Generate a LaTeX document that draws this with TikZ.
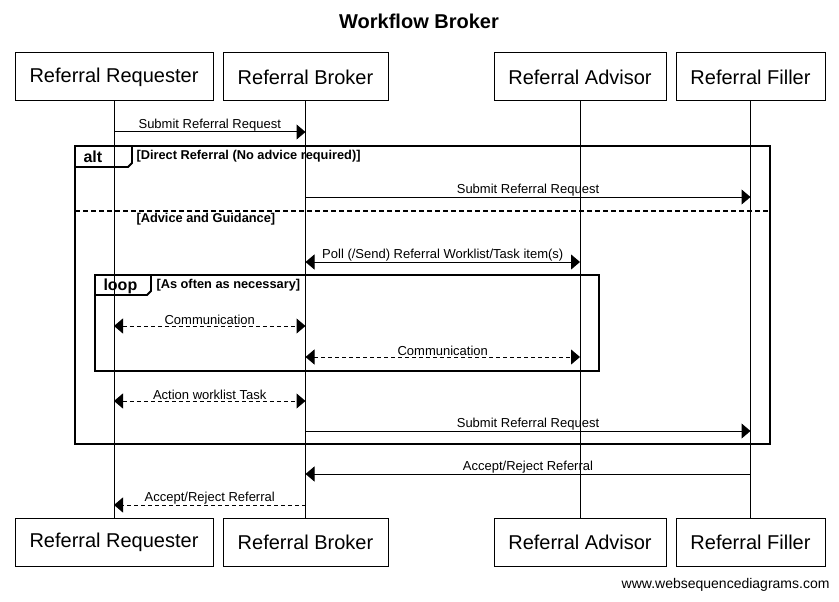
\documentclass[tikz,border=0pt]{standalone}
\usepackage{fontspec}
\setmainfont{Liberation Sans}
\usetikzlibrary{arrows.meta}

\begin{document}
\begin{tikzpicture}[x=1pt,y=-1pt,line width=1pt,
  ator/.style={draw,minimum height=48pt,inner sep=0pt,font=\fontsize{20pt}{24pt}\selectfont},
  msg/.style={-{Triangle[length=9pt,width=15pt]}},
  duplo/.style={{Triangle[length=9pt,width=15pt]}-{Triangle[length=9pt,width=15pt]}},
  tracejado/.style={dash pattern=on 4pt off 3pt},
  rotulo/.style={font=\fontsize{13pt}{15pt}\selectfont,above,inner sep=0.5pt},
  moldura/.style={line width=1.8pt},
  guarda/.style={font=\bfseries\fontsize{12.8pt}{14pt}\selectfont,anchor=west,inner sep=0pt}]
  \useasboundingbox[fill=white] (0,0) rectangle (839,602);

  %titulo
  \node[font=\bfseries\fontsize{20pt}{24pt}\selectfont] (titulo) at (419,21) {Workflow Broker};

  %participantes em cima
  \node[ator,minimum width=198pt] (req) at (114,77) {Referral Requester};
  \node[ator,minimum width=165pt] (brk) at (305.5,77) {Referral Broker};
  \node[ator,minimum width=172pt] (adv) at (580,77) {Referral Advisor};
  \node[ator,minimum width=149pt] (fil) at (750.5,77) {Referral Filler};

  %participantes em baixo
  \node[ator,minimum width=198pt] (req2) at (114,542) {Referral Requester};
  \node[ator,minimum width=165pt] (brk2) at (305.5,542) {Referral Broker};
  \node[ator,minimum width=172pt] (adv2) at (580,542) {Referral Advisor};
  \node[ator,minimum width=149pt] (fil2) at (750.5,542) {Referral Filler};

  %linhas de vida
  \draw (req) -- (req2);
  \draw (brk) -- (brk2);
  \draw (adv) -- (adv2);
  \draw (fil) -- (fil2);

  %alturas das mensagens
  \coordinate (m1) at (0,132);
  \coordinate (m2) at (0,197);
  \coordinate (m3) at (0,262);
  \coordinate (m4) at (0,326);
  \coordinate (m5) at (0,357);
  \coordinate (m6) at (0,401);
  \coordinate (m7) at (0,431);
  \coordinate (m8) at (0,474);
  \coordinate (m9) at (0,505);

  %bloco alt
  \draw[moldura] (75,146) rectangle (770,444);
  \draw[moldura] (75,167) -- (128,167) -- (132,163) -- (132,146);
  \node[font=\bfseries\fontsize{16pt}{18pt}\selectfont,anchor=west,inner sep=0pt] (alt) at (83,157) {alt};
  \node[guarda] (g1) at (136,156) {[Direct Referral (No advice required)]};
  \draw[moldura,dash pattern=on 5pt off 3pt] (75,211) -- (770,211);
  \node[guarda] (g2) at (136,219) {[Advice and Guidance]};

  %bloco loop
  \draw[moldura] (95,275) rectangle (599,371);
  \draw[moldura] (95,295) -- (147,295) -- (151,291) -- (151,275);
  \node[font=\bfseries\fontsize{16pt}{18pt}\selectfont,anchor=west,inner sep=0pt] (loop) at (103,286) {loop};
  \node[guarda] (g3) at (156,285) {[As often as necessary]};

  %mensagens
  \draw[msg] (req |- m1) -- node[rotulo] {Submit Referral Request} (brk |- m1);
  \draw[msg] (brk |- m2) -- node[rotulo] {Submit Referral Request} (fil |- m2);
  \draw[duplo] (brk |- m3) -- node[rotulo] {Poll (/Send) Referral Worklist/Task item(s)} (adv |- m3);
  \draw[duplo,tracejado] (req |- m4) -- node[rotulo] {Communication} (brk |- m4);
  \draw[duplo,tracejado] (brk |- m5) -- node[rotulo] {Communication} (adv |- m5);
  \draw[duplo,tracejado] (req |- m6) -- node[rotulo] {Action worklist Task} (brk |- m6);
  \draw[msg] (brk |- m7) -- node[rotulo] {Submit Referral Request} (fil |- m7);
  \draw[msg] (fil |- m8) -- node[rotulo] {Accept/Reject Referral} (brk |- m8);
  \draw[msg,tracejado] (brk |- m9) -- node[rotulo] {Accept/Reject Referral} (req |- m9);

  %rodape
  \node[font=\fontsize{14pt}{16pt}\selectfont,anchor=east,inner sep=0pt] (rodape) at (830,585) {www.websequencediagrams.com};
\end{tikzpicture}
\end{document}
